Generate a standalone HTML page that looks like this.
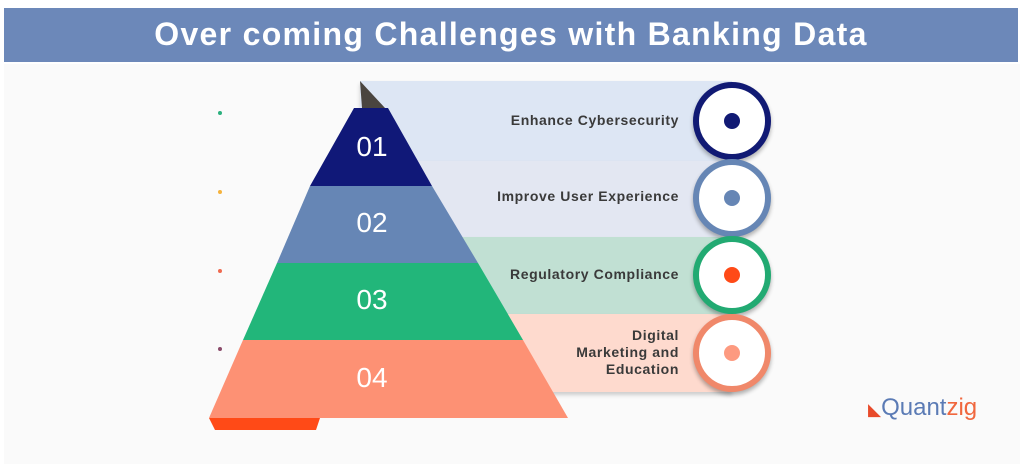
<!DOCTYPE html>
<html><head><meta charset="utf-8"><style>
body{margin:0;width:1024px;height:468px;background:#fff;position:relative;overflow:hidden;font-family:"Liberation Sans",sans-serif}
.bg{position:absolute;left:4px;top:64px;width:1016px;height:400px;background:#fafafa}
.title{position:absolute;left:4px;top:8px;width:1014px;height:54px;background:#6c88b9;color:#fff;font-weight:bold;font-size:32px;letter-spacing:1.3px;text-align:center;line-height:52px}
.band{position:absolute;left:360px;width:372px;box-shadow:0 3px 4px rgba(0,0,0,.18)}
.lbl{position:absolute;right:345px;width:220px;text-align:right;font-weight:bold;font-size:14px;letter-spacing:0.6px;color:#3a3a3a;line-height:17px}
.c{position:absolute;width:66px;height:66px;border-radius:50%;background:#fff;border:6px solid;box-shadow:0 3px 4px rgba(0,0,0,.3)}
.c i{position:absolute;left:25px;top:25px;width:16px;height:16px;border-radius:50%}
.num{position:absolute;color:#fff;font-size:28px;width:100px;text-align:center}
.dot{position:absolute;left:218px;width:4px;height:4px;border-radius:50%}
</style></head><body>
<div class="bg"></div>
<div class="title">Over coming Challenges with Banking Data</div>
<div class="band" style="top:81px;height:80px;background:#dde6f4"></div>
<div class="band" style="top:161px;height:76px;background:#e3e7f2"></div>
<div class="band" style="top:237px;height:77px;background:#c1e0d3"></div>
<div class="band" style="top:314px;height:78px;background:#fedace"></div>
<svg style="position:absolute;left:0;top:0" width="1024" height="468">
<polygon points="360,81 385,108 362,108" fill="#4a4540"/>
<polygon points="209,418 320,418 316,430 215,430" fill="#ff4a17"/>
<polygon points="354,108 388,108 432,186 310,186" fill="#101878"/>
<polygon points="310,186 432,186 478,263 277,263" fill="#6686b5"/>
<polygon points="277,263 478,263 523,340 243,340" fill="#22b67a"/>
<polygon points="243,340 523,340 568,418 209,418" fill="#fd9174"/>
</svg>
<div class="num" style="left:322px;top:131px">01</div>
<div class="num" style="left:322px;top:207px">02</div>
<div class="num" style="left:322px;top:284px">03</div>
<div class="num" style="left:322px;top:362px">04</div>
<div class="dot" style="top:111px;background:#2bb07e"></div>
<div class="dot" style="top:190px;background:#f5b23c"></div>
<div class="dot" style="top:269px;background:#ef6a50"></div>
<div class="dot" style="top:347px;background:#8a4a6a"></div>
<div class="lbl" style="top:112px">Enhance Cybersecurity</div>
<div class="lbl" style="top:188px">Improve User Experience</div>
<div class="lbl" style="top:266px">Regulatory Compliance</div>
<div class="lbl" style="top:327px">Digital<br>Marketing and<br>Education</div>
<div class="c" style="left:693px;top:82px;border-color:#111a74"><i style="background:#111a74"></i></div>
<div class="c" style="left:693px;top:159px;border-color:#6686b5"><i style="background:#6686b5"></i></div>
<div class="c" style="left:693px;top:236px;border-color:#22aa72"><i style="background:#ff4a17"></i></div>
<div class="c" style="left:693px;top:314px;border-color:#f0886a"><i style="background:#fd9a80"></i></div>
<div style="position:absolute;left:868px;top:394px;font-size:24px;color:#5b7bb5"><span style="color:#e84a2a;font-size:17px">◣</span>Quant<span style="color:#f0673e">zig</span></div>
</body></html>
